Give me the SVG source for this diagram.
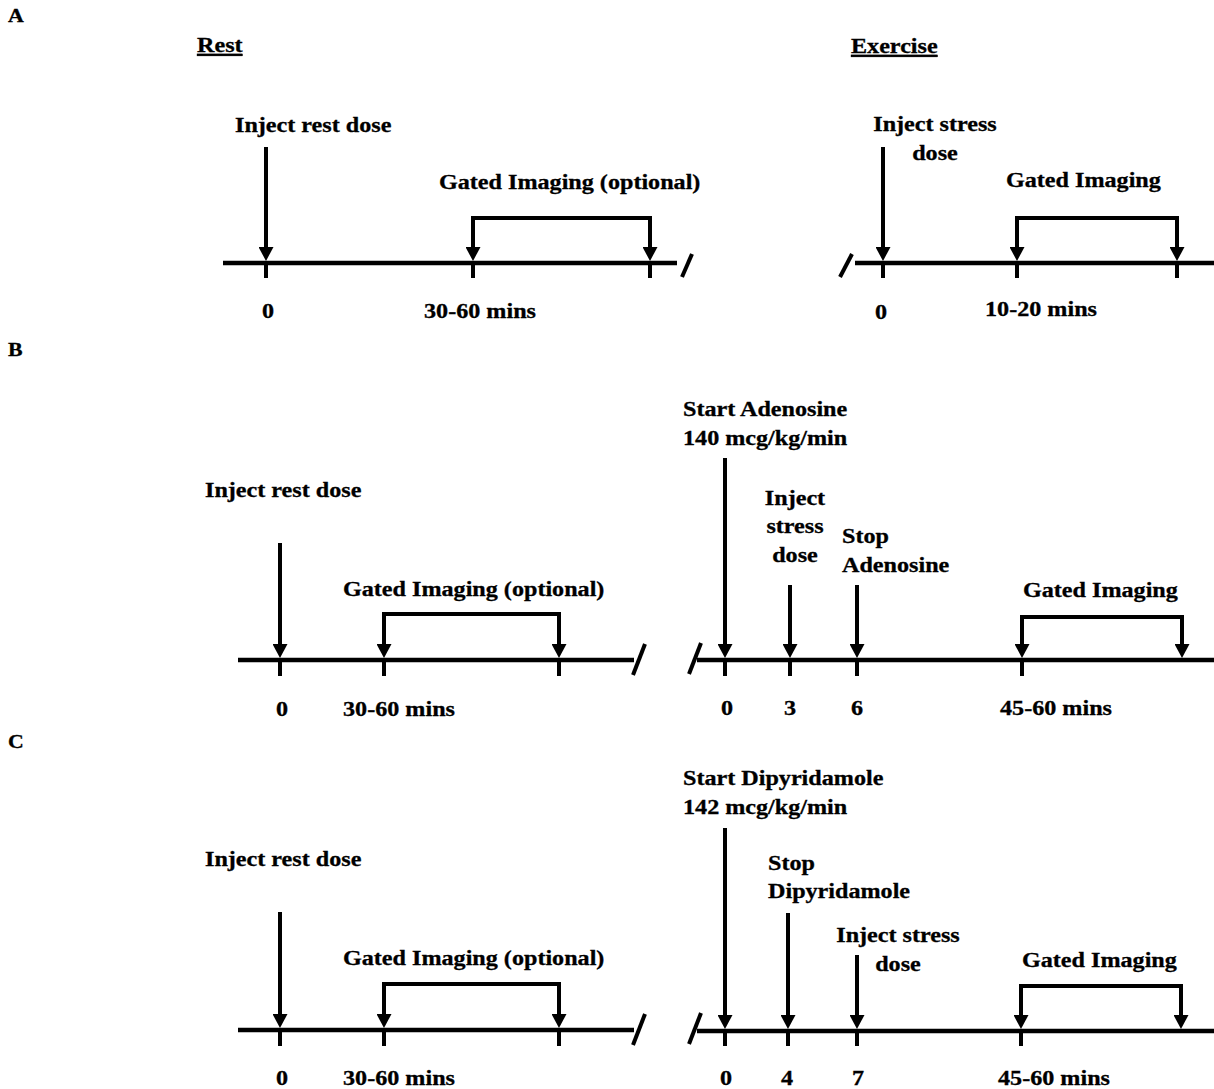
<svg xmlns="http://www.w3.org/2000/svg" width="1214" height="1089" viewBox="0 0 1214 1089">
<style>
.t{font-family:"Liberation Serif","Times New Roman",serif;font-weight:bold;font-size:21px;fill:#000;stroke:#000;stroke-width:0.3}
.m{text-anchor:middle}
.u{text-decoration:underline}
.tl{stroke:#000;stroke-width:4.5;fill:none}
.ln{stroke:#000;stroke-width:4;fill:none}
.ar{stroke:#000;stroke-width:4;fill:none;marker-end:url(#ah)}
</style>
<defs>
<marker id="ah" markerUnits="userSpaceOnUse" markerWidth="14" markerHeight="15" viewBox="0 0 14 15" refX="6" refY="7.5" orient="auto">
<path d="M0,0 L14,7.5 L0,15 z" fill="#000"/>
</marker>
</defs>
<rect width="1214" height="1089" fill="#fff"/>

<!-- panel labels -->
<g id="labels">
<text class="t" transform="translate(8 22) scale(1.15 1)" style="font-size:19px">A</text>
<text class="t" transform="translate(8 356) scale(1.15 1)" style="font-size:19px">B</text>
<text class="t" transform="translate(8 748) scale(1.15 1)" style="font-size:19px">C</text>
<text class="t u" transform="translate(197 52) scale(1.15 1)">Rest</text>
<text class="t u" transform="translate(851 53) scale(1.15 1)">Exercise</text>
</g>

<!-- ===== Panel A: Rest ===== -->
<g id="A-rest-axis">
<line class="tl" x1="223" y1="263" x2="677" y2="263"/>
<line class="ln" x1="682" y1="277" x2="692" y2="254"/>
<line class="ln" x1="266" y1="263" x2="266" y2="278"/>
<line class="ln" x1="473" y1="263" x2="473" y2="278"/>
<line class="ln" x1="650" y1="263" x2="650" y2="278"/>
<text class="t m" transform="translate(268 318) scale(1.15 1)">0</text>
<text class="t" transform="translate(424 318) scale(1.15 1)">30-60 mins</text>
</g>
<g id="A-rest-inject">
<text class="t" transform="translate(235 132) scale(1.15 1)">Inject rest dose</text>
</g>
<g id="A-rest-imaging">
<text class="t" transform="translate(439 189) scale(1.15 1)">Gated Imaging (optional)</text>
</g>

<!-- ===== Panel A: Exercise ===== -->
<g id="A-ex-axis">
<line class="ln" x1="840" y1="277" x2="852" y2="254"/>
<line class="tl" x1="855" y1="263" x2="1214" y2="263"/>
<line class="ln" x1="883" y1="263" x2="883" y2="278"/>
<line class="ln" x1="1017" y1="263" x2="1017" y2="278"/>
<line class="ln" x1="1177" y1="263" x2="1177" y2="278"/>
<text class="t m" transform="translate(881 319) scale(1.15 1)">0</text>
<text class="t" transform="translate(985 316) scale(1.15 1)">10-20 mins</text>
</g>
<g id="A-ex-inject">
<text class="t m" transform="translate(935 131) scale(1.15 1)">Inject stress</text>
<text class="t m" transform="translate(935 160) scale(1.15 1)">dose</text>
</g>
<g id="A-ex-imaging">
<text class="t" transform="translate(1006 187) scale(1.15 1)">Gated Imaging</text>
</g>

<!-- ===== Panel B: Rest ===== -->
<g id="B-rest-axis">
<line class="tl" x1="238" y1="660" x2="634" y2="660"/>
<line class="ln" x1="633" y1="675" x2="645" y2="644"/>
<line class="ln" x1="280" y1="660" x2="280" y2="676"/>
<line class="ln" x1="384" y1="660" x2="384" y2="676"/>
<line class="ln" x1="559" y1="660" x2="559" y2="676"/>
<text class="t m" transform="translate(282 716) scale(1.15 1)">0</text>
<text class="t" transform="translate(343 716) scale(1.15 1)">30-60 mins</text>
</g>
<g id="B-rest-inject">
<text class="t" transform="translate(205 497) scale(1.15 1)">Inject rest dose</text>
</g>
<g id="B-rest-imaging">
<text class="t" transform="translate(343 596) scale(1.15 1)">Gated Imaging (optional)</text>
</g>

<!-- ===== Panel B: Adenosine ===== -->
<g id="B-stress-axis">
<line class="ln" x1="689" y1="674" x2="701" y2="643"/>
<line class="tl" x1="697" y1="660" x2="1214" y2="660"/>
<line class="ln" x1="725" y1="660" x2="725" y2="676"/>
<line class="ln" x1="790" y1="660" x2="790" y2="676"/>
<line class="ln" x1="857" y1="660" x2="857" y2="676"/>
<line class="ln" x1="1022" y1="660" x2="1022" y2="676"/>
<text class="t m" transform="translate(727 715) scale(1.15 1)">0</text>
<text class="t m" transform="translate(790 715) scale(1.15 1)">3</text>
<text class="t m" transform="translate(857 715) scale(1.15 1)">6</text>
<text class="t" transform="translate(1000 715) scale(1.15 1)">45-60 mins</text>
</g>
<g id="B-start">
<text class="t" transform="translate(683 416) scale(1.15 1)">Start Adenosine</text>
<text class="t" transform="translate(683 445) scale(1.15 1)">140 mcg/kg/min</text>
</g>
<g id="B-inject">
<text class="t m" transform="translate(795 505) scale(1.15 1)">Inject</text>
<text class="t m" transform="translate(795 533) scale(1.15 1)">stress</text>
<text class="t m" transform="translate(795 562) scale(1.15 1)">dose</text>
</g>
<g id="B-stop">
<text class="t" transform="translate(842 543) scale(1.15 1)">Stop</text>
<text class="t" transform="translate(842 572) scale(1.15 1)">Adenosine</text>
</g>
<g id="B-imaging">
<text class="t" transform="translate(1023 597) scale(1.15 1)">Gated Imaging</text>
</g>

<!-- ===== Panel C: Rest ===== -->
<g id="C-rest-axis">
<line class="tl" x1="238" y1="1030" x2="634" y2="1030"/>
<line class="ln" x1="633" y1="1045" x2="645" y2="1014"/>
<line class="ln" x1="280" y1="1030" x2="280" y2="1046"/>
<line class="ln" x1="384" y1="1030" x2="384" y2="1046"/>
<line class="ln" x1="559" y1="1030" x2="559" y2="1046"/>
<text class="t m" transform="translate(282 1085) scale(1.15 1)">0</text>
<text class="t" transform="translate(343 1085) scale(1.15 1)">30-60 mins</text>
</g>
<g id="C-rest-inject">
<text class="t" transform="translate(205 866) scale(1.15 1)">Inject rest dose</text>
</g>
<g id="C-rest-imaging">
<text class="t" transform="translate(343 965) scale(1.15 1)">Gated Imaging (optional)</text>
</g>

<!-- ===== Panel C: Dipyridamole ===== -->
<g id="C-stress-axis">
<line class="ln" x1="689" y1="1044" x2="701" y2="1013"/>
<line class="tl" x1="697" y1="1031" x2="1214" y2="1031"/>
<line class="ln" x1="725" y1="1031" x2="725" y2="1046"/>
<line class="ln" x1="788" y1="1031" x2="788" y2="1046"/>
<line class="ln" x1="857" y1="1031" x2="857" y2="1046"/>
<line class="ln" x1="1021" y1="1031" x2="1021" y2="1046"/>
<text class="t m" transform="translate(726 1085) scale(1.15 1)">0</text>
<text class="t m" transform="translate(787 1085) scale(1.15 1)">4</text>
<text class="t m" transform="translate(858 1085) scale(1.15 1)">7</text>
<text class="t" transform="translate(998 1085) scale(1.15 1)">45-60 mins</text>
</g>
<g id="C-start">
<text class="t" transform="translate(683 785) scale(1.15 1)">Start Dipyridamole</text>
<text class="t" transform="translate(683 814) scale(1.15 1)">142 mcg/kg/min</text>
</g>
<g id="C-stop">
<text class="t" transform="translate(768 870) scale(1.15 1)">Stop</text>
<text class="t" transform="translate(768 898) scale(1.15 1)">Dipyridamole</text>
</g>
<g id="C-inject">
<text class="t m" transform="translate(898 942) scale(1.15 1)">Inject stress</text>
<text class="t m" transform="translate(898 971) scale(1.15 1)">dose</text>
</g>
<g id="C-imaging">
<text class="t" transform="translate(1022 967) scale(1.15 1)">Gated Imaging</text>
</g>

<!-- ===== Connectors (arrows and imaging brackets) ===== -->
<g id="connectors">
<line class="ar" x1="266" y1="147" x2="266" y2="253"/>
<polyline class="ln" points="473,253 473,218 650,218 650,253"/>
<line class="ar" x1="473" y1="240" x2="473" y2="253"/>
<line class="ar" x1="650" y1="240" x2="650" y2="253"/>

<line class="ar" x1="883" y1="147" x2="883" y2="253"/>
<polyline class="ln" points="1017,253 1017,218 1177,218 1177,253"/>
<line class="ar" x1="1017" y1="240" x2="1017" y2="253"/>
<line class="ar" x1="1177" y1="240" x2="1177" y2="253"/>

<line class="ar" x1="280" y1="543" x2="280" y2="650"/>
<polyline class="ln" points="384,650 384,614 559,614 559,650"/>
<line class="ar" x1="384" y1="636" x2="384" y2="650"/>
<line class="ar" x1="559" y1="636" x2="559" y2="650"/>

<line class="ar" x1="725" y1="458" x2="725" y2="650"/>
<line class="ar" x1="790" y1="585" x2="790" y2="650"/>
<line class="ar" x1="857" y1="585" x2="857" y2="650"/>
<polyline class="ln" points="1022,650 1022,617 1182,617 1182,650"/>
<line class="ar" x1="1022" y1="636" x2="1022" y2="650"/>
<line class="ar" x1="1182" y1="636" x2="1182" y2="650"/>

<line class="ar" x1="280" y1="912" x2="280" y2="1020"/>
<polyline class="ln" points="384,1020 384,984 559,984 559,1020"/>
<line class="ar" x1="384" y1="1006" x2="384" y2="1020"/>
<line class="ar" x1="559" y1="1006" x2="559" y2="1020"/>

<line class="ar" x1="725" y1="828" x2="725" y2="1021"/>
<line class="ar" x1="788" y1="913" x2="788" y2="1021"/>
<line class="ar" x1="857" y1="955" x2="857" y2="1021"/>
<polyline class="ln" points="1021,1021 1021,986 1181,986 1181,1021"/>
<line class="ar" x1="1021" y1="1006" x2="1021" y2="1021"/>
<line class="ar" x1="1181" y1="1006" x2="1181" y2="1021"/>
</g>
</svg>
